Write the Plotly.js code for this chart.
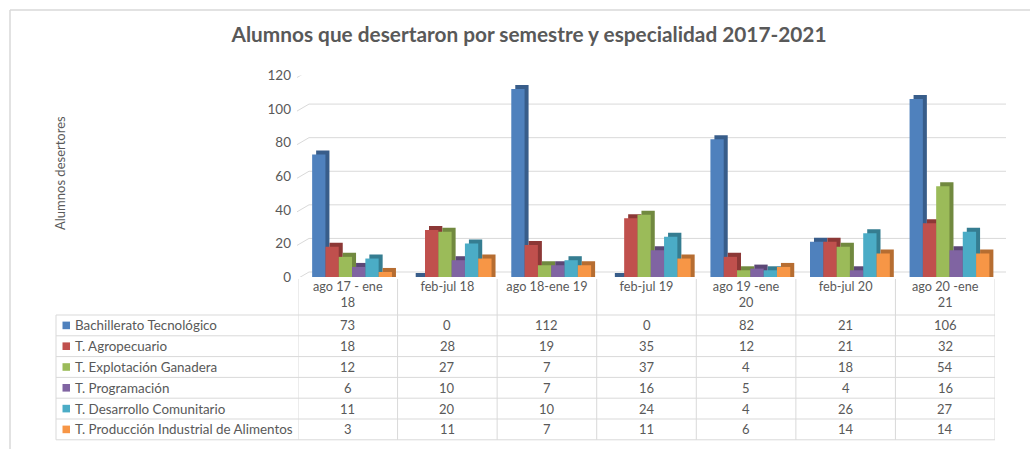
<!DOCTYPE html>
<html><head><meta charset="utf-8">
<script src="https://cdn.plot.ly/plotly-3.0.1.min.js"></script>
<style>html,body{margin:0;padding:0;background:#fff}</style>
</head><body><div id="chart" style="width:1030px;height:449px"></div>
<script>
// ---- data ----
const categories = ["ago 17 - ene<br>18", "feb-jul 18", "ago 18-ene 19", "feb-jul 19", "ago 19 -ene<br>20", "feb-jul 20", "ago 20 -ene<br>21"];
const seriesNames = ["Bachillerato Tecnológico", "T. Agropecuario", "T. Explotación Ganadera", "T. Programación", "T. Desarrollo Comunitario", "T. Producción Industrial de Alimentos"];
const bachillerato = [73, 0, 112, 0, 82, 21, 106];
const agropecuario = [18, 28, 19, 35, 12, 21, 32];
const ganadera = [12, 27, 7, 37, 4, 18, 54];
const programacion = [6, 10, 7, 16, 5, 4, 16];
const desarrollo = [11, 20, 10, 24, 4, 26, 27];
const alimentos = [3, 11, 7, 11, 6, 14, 14];
const yTicks = [0, 20, 40, 60, 80, 100, 120];

// ---- styling ----
const seriesValues = [bachillerato, agropecuario, ganadera, programacion, desarrollo, alimentos];
const frontColors = ["#4F81BD", "#C0504D", "#9BBB59", "#8064A2", "#4BACC6", "#F79646"];
const sideColors = ["#385D8A", "#8C3836", "#71893F", "#5C4776", "#357D91", "#B66D31"];
const W = 1030, H = 449;
const px = x => x / W;
const py = y => 1 - y / H;
const plotLeft = 298, plotRight = 995, yZero = 277, yTop = 75.5;
const catW = (plotRight - plotLeft) / categories.length;
const unitPx = (yZero - yTop) / 120;
const depthPx = 4;
const depthX = depthPx / catW;
const depthY = depthPx / unitPx;
const barW = 0.1336;
const firstOff = -0.358;
const txt = "#595959";
const gridC = "#d9d9d9";
const FONT = "Lato, 'Open Sans', sans-serif";
const xIdx = categories.map((c, i) => i);

const traces = [];
seriesValues.forEach((vals, i) => {
  const off = firstOff + i * barW;
  traces.push({
    type: "bar", x: xIdx, y: vals.map(v => v + depthY), base: 0,
    offset: off + depthX, width: barW,
    marker: {color: sideColors[i], line: {width: 0}},
    hoverinfo: "skip", showlegend: false
  });
  traces.push({
    type: "bar", x: xIdx, y: vals, name: seriesNames[i],
    offset: off, width: barW,
    marker: {color: frontColors[i], line: {width: 0}},
    showlegend: false
  });
});

const shapes = [];
const annotations = [];
// outer chart border (left & top)
shapes.push({type: "line", xref: "paper", yref: "paper", x0: px(10), x1: px(10), y0: py(10), y1: 0, line: {color: gridC, width: 1.5}});
shapes.push({type: "line", xref: "paper", yref: "paper", x0: px(10), x1: 1, y0: py(10), y1: py(10), line: {color: gridC, width: 1.5}});

// back-wall gridlines with perspective stub
yTicks.forEach(t => {
  shapes.push({type: "line", layer: "below", xref: "paper", xsizemode: "pixel", xanchor: px(297), x0: 0, x1: 12,
    yref: "y", ysizemode: "pixel", yanchor: t, y0: -2, y1: 5, line: {color: gridC, width: 1}});
  shapes.push({type: "line", layer: "below", xref: "paper", x0: px(309), x1: px(1006),
    yref: "y", ysizemode: "pixel", yanchor: t, y0: 5, y1: 5, line: {color: gridC, width: 1}});
});

// data table
const rowTop = 315, rowH = 20.8, headTop = 279;
const nRows = seriesNames.length;
const tableBottom = rowTop + nRows * rowH;
for (let r = 0; r <= nRows; r++) {
  const y = rowTop + r * rowH;
  shapes.push({type: "line", xref: "paper", yref: "paper", x0: px(56), x1: px(plotRight), y0: py(y), y1: py(y), line: {color: gridC, width: 1}});
}
shapes.push({type: "line", xref: "paper", yref: "paper", x0: px(56), x1: px(56), y0: py(rowTop), y1: py(tableBottom), line: {color: gridC, width: 1}});
for (let j = 0; j <= categories.length; j++) {
  shapes.push({type: "line", xref: "x", yref: "paper", x0: j - 0.5, x1: j - 0.5, y0: py(headTop), y1: py(tableBottom), line: {color: gridC, width: 1}});
}
seriesNames.forEach((name, r) => {
  const yc = rowTop + (r + 0.5) * rowH;
  shapes.push({type: "rect", xref: "paper", yref: "paper", x0: px(62.5), x1: px(70), y0: py(yc + 3.8), y1: py(yc - 3.8), fillcolor: frontColors[r], line: {width: 0}});
  annotations.push({xref: "paper", yref: "paper", x: px(72.5), y: py(yc), xanchor: "left", yanchor: "middle", text: name, showarrow: false, font: {family: FONT, size: 13.4, color: txt}});
  seriesValues[r].forEach((v, j) => {
    annotations.push({xref: "x", yref: "paper", x: j, y: py(yc), xanchor: "center", yanchor: "middle", text: String(v), showarrow: false, font: {family: FONT, size: 13, color: txt}});
  });
});

// y-axis title
annotations.push({xref: "paper", yref: "paper", x: px(60), y: py(173), text: "Alumnos desertores", textangle: -90, showarrow: false, xanchor: "center", yanchor: "middle", font: {family: FONT, size: 13, color: txt}});

const layout = {
  width: W, height: H,
  margin: {l: 0, r: 0, t: 0, b: 0},
  paper_bgcolor: "#ffffff", plot_bgcolor: "rgba(0,0,0,0)",
  barmode: "overlay",
  title: {text: "Alumnos que desertaron por semestre y especialidad 2017-2021", x: px(529), xanchor: "center", y: py(35), yanchor: "middle", font: {family: FONT, size: 20.8, color: txt, weight: "bold"}},
  xaxis: {domain: [px(plotLeft), px(plotRight)], range: [-0.5, categories.length - 0.5], tickvals: xIdx, ticktext: categories,
    showgrid: false, zeroline: false, showline: false, ticks: "", tickfont: {family: FONT, size: 12.7, color: txt}, fixedrange: true},
  yaxis: {domain: [py(yZero), py(yTop)], range: [0, 120], tickvals: yTicks, showgrid: false, zeroline: false, showline: false,
    ticks: "", ticklabelstandoff: 6, tickfont: {family: FONT, size: 13.5, color: txt}, fixedrange: true},
  shapes: shapes,
  annotations: annotations,
  showlegend: false
};
Plotly.newPlot("chart", traces, layout, {displayModeBar: false, staticPlot: true});
</script></body></html>
